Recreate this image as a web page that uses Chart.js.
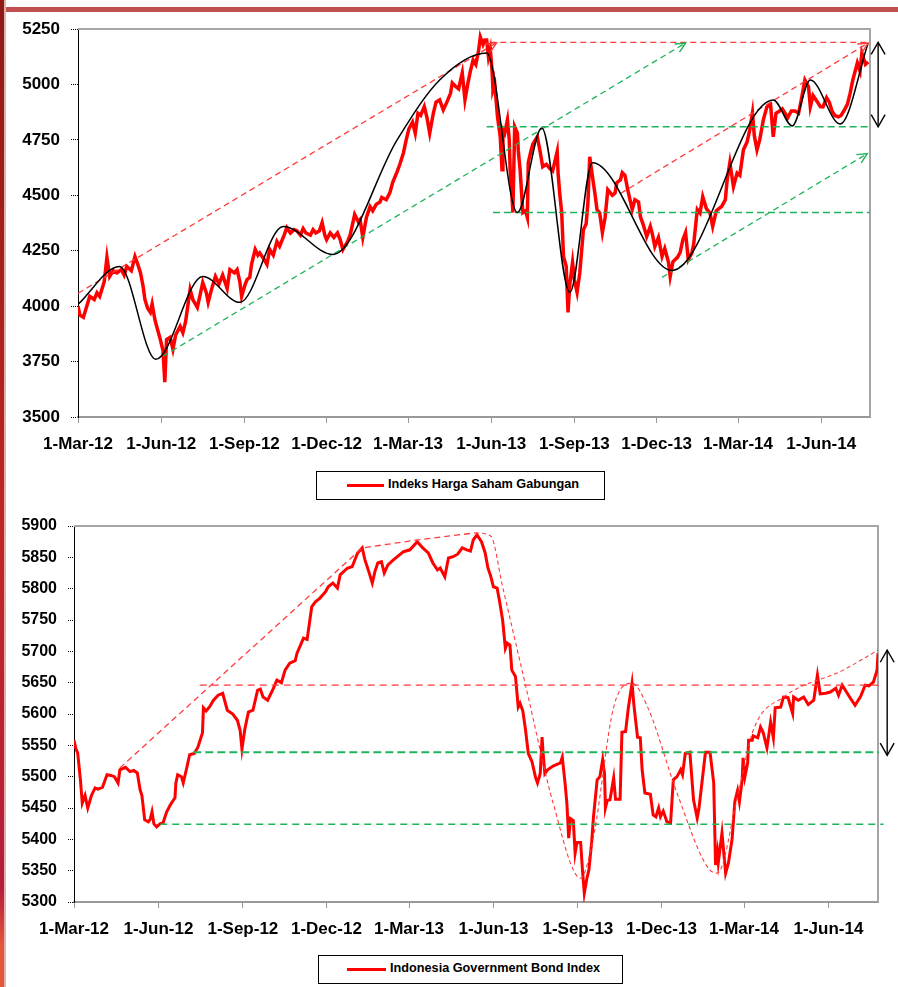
<!DOCTYPE html>
<html>
<head>
<meta charset="utf-8">
<script src="https://cdn.jsdelivr.net/npm/chart.js@4.4.0/dist/chart.umd.min.js"></script>
<style>
  body { margin: 0; background: #fff; width: 898px; height: 987px; position: relative; overflow: hidden; font-family: "Liberation Sans", Arial, sans-serif; }
  .strip { position: absolute; left: 0; top: 0; width: 4px; height: 987px; background: linear-gradient(#8e1b16 0%, #a3201a 25%, #c02626 55%, #b51d3c 90%, #e4583a 96%); }
  .strip2 { position: absolute; left: 4px; top: 0; width: 2px; height: 987px; background: #e3b0ae; }
  .band { position: absolute; left: 6px; top: 7px; right: 0; height: 5px; background: #c0504d; }
  canvas { position: absolute; left: 0; }
  .legend { position: absolute; border: 1.5px solid #000; box-sizing: border-box; font-weight: bold; font-size: 12.7px; }
  .legend .ln { position: absolute; height: 3px; background: #ff0000; }
  .legend .tx { position: absolute; white-space: nowrap; }
</style>
</head>
<body>
<div class="strip"></div>
<div class="strip2"></div>
<div class="band"></div>

<canvas id="chartIhsg" width="898" height="465" style="top:0"></canvas>
<div class="legend" id="legIhsg" style="left:316px;top:471px;width:289px;height:29px">
  <div class="ln" style="left:30px;top:12px;width:37px"></div>
  <div class="tx" style="left:71px;top:5px"></div>
</div>

<canvas id="chartBond" width="898" height="445" style="top:505px"></canvas>
<div class="legend" id="legBond" style="left:318px;top:955px;width:305px;height:29px">
  <div class="ln" style="left:28px;top:12px;width:39px"></div>
  <div class="tx" style="left:71px;top:5px"></div>
</div>

<script>
// x axis: days since 1-Mar-12
const tickDays = [0, 92, 184, 275, 365, 457, 549, 640, 730, 822];
const tickLabels = ['1-Mar-12', '1-Jun-12', '1-Sep-12', '1-Dec-12', '1-Mar-13', '1-Jun-13', '1-Sep-13', '1-Dec-13', '1-Mar-14', '1-Jun-14'];
const lastDay = 876;

// ---- Indeks Harga Saham Gabungan ----
const ihsgName = 'Indeks Harga Saham Gabungan';
const ihsgDays = [0,2,6,9,13,18,21,24,29,32,35,39,43,48,51,54,59,63,66,69,72,74,77,80,82,85,87,91,94,96,98,102,105,108,113,116,119,124,127,132,135,138,142,144,148,152,156,160,165,168,173,176,179,181,185,187,190,192,196,199,201,206,209,212,216,220,223,228,231,235,239,242,246,249,252,257,260,263,267,270,273,275,279,283,287,290,293,298,301,306,310,312,315,319,323,326,330,334,336,341,345,348,353,356,360,363,366,370,373,376,379,383,386,389,393,396,400,404,408,412,414,418,421,425,428,431,434,437,440,443,445,448,450,452,454,456,458,459,461,464,467,469,470,472,475,477,478,480,481,483,486,487,489,492,495,497,498,501,503,508,511,514,518,522,525,530,531,533,535,537,540,542,544,547,549,552,555,559,562,564,566,570,572,574,577,580,583,586,591,594,596,600,602,605,608,613,616,620,622,625,629,633,635,638,642,646,649,653,655,658,663,666,669,672,675,679,681,685,688,691,695,699,702,706,709,712,716,718,721,725,729,732,736,740,743,746,748,751,754,758,762,766,769,772,776,779,782,785,789,793,797,800,804,808,810,813,818,821,824,828,831,834,837,841,844,847,851,854,857,862,865,867,871,874];
const ihsgValues = [4000,3960,3950,3990,4044,4030,4060,4044,4110,4220,4134,4160,4150,4165,4140,4179,4160,4224,4190,4152,4090,4030,3990,3972,4010,3940,3909,3850,3800,3657,3850,3860,3805,3870,3909,3880,3930,4075,4030,3994,4050,4107,4060,4017,4080,4134,4100,4140,4080,4165,4150,4165,4110,4044,4100,4120,4130,4190,4256,4230,4240,4210,4188,4256,4230,4291,4270,4320,4354,4330,4345,4340,4320,4350,4330,4320,4345,4330,4340,4377,4320,4300,4330,4310,4330,4300,4255,4290,4320,4413,4380,4390,4310,4400,4449,4430,4460,4470,4490,4480,4512,4557,4607,4640,4692,4750,4800,4830,4780,4870,4860,4900,4850,4780,4870,4920,4930,4885,4920,4960,5007,4990,4980,5052,4930,5000,5060,5110,5090,5150,5214,5180,5200,5200,5124,5160,5060,4975,5000,4854,4764,4615,4795,4780,4840,4750,4615,4500,4422,4809,4780,4700,4615,4422,4430,4400,4647,4700,4730,4764,4700,4629,4640,4620,4610,4697,4600,4500,4422,4224,4180,3972,4100,4197,4120,4062,4150,4345,4370,4467,4674,4557,4500,4436,4420,4332,4400,4525,4500,4510,4557,4570,4602,4590,4525,4436,4480,4470,4404,4370,4314,4360,4330,4269,4310,4224,4260,4200,4134,4200,4220,4242,4300,4332,4210,4240,4280,4436,4420,4494,4440,4420,4359,4430,4440,4450,4480,4570,4647,4539,4600,4590,4705,4740,4795,4872,4770,4705,4750,4840,4899,4910,4764,4870,4880,4890,4870,4850,4880,4880,4870,4930,5020,4990,4899,4950,4920,4900,4899,4940,4920,4880,4860,4854,4860,4880,4910,4960,5020,5097,5060,5142,5090,5101];
// smooth wave drawn by the analyst
const ihsgWaveDays = [0,46,86,138,179,227,282,353,400,452,486,513,544,569,657,769,790,810,843,874];
const ihsgWaveValues = [4008,4179,3760,4134,4017,4359,4233,4750,5020,5142,4422,4804,4062,4647,4161,4930,4813,5020,4822,5187];
// trend lines
const ihsgUpper1Days = [0, 463], ihsgUpper1Values = [4058, 5188];
const ihsgUpper2Days = [600, 874], ihsgUpper2Values = [4508, 5187];
const ihsgLower1Days = [94, 672], ihsgLower1Values = [3774, 5187];
const ihsgLower2Days = [646, 873], ihsgLower2Values = [4130, 4688];
const ihsgTopDays = [456, 876], ihsgTopValues = [5190, 5190];
const ihsgLevel1Days = [452, 876], ihsgLevel1Values = [4809, 4809];
const ihsgLevel2Days = [459, 876], ihsgLevel2Values = [4422, 4422];
const ihsgRangeDay = 885, ihsgRangeValues = [5190, 4809];

// ---- Indonesia Government Bond Index ----
const bondName = 'Indonesia Government Bond Index';
const bondDays = [0,2,4,7,9,12,15,19,23,26,31,34,36,40,44,48,50,56,61,65,69,72,74,77,81,83,85,87,90,94,97,101,105,108,110,111,113,117,119,123,126,131,135,140,141,144,148,152,157,162,167,173,178,181,183,186,190,195,200,203,206,211,217,221,226,230,235,241,243,246,250,254,257,259,263,268,274,277,282,287,290,298,303,309,314,317,321,325,328,331,335,338,342,348,353,359,366,374,380,386,391,396,399,404,408,413,418,423,428,432,435,439,444,448,451,454,457,461,464,467,470,472,475,477,481,484,486,489,492,495,499,503,505,508,510,511,513,516,522,530,532,535,537,539,541,544,546,548,552,554,556,559,561,564,566,570,573,576,578,579,581,584,588,590,595,597,601,604,608,610,614,617,619,622,628,631,634,637,639,642,646,650,653,657,661,663,666,671,675,679,681,688,693,697,699,701,702,706,710,713,717,720,723,725,728,729,731,734,735,739,740,745,748,751,755,759,762,764,770,773,778,783,784,789,795,800,806,810,813,819,824,830,833,837,843,846,851,857,862,866,871,875,876];
const bondValues = [5558,5545,5538,5495,5458,5470,5450,5470,5482,5480,5483,5495,5503,5502,5500,5490,5511,5515,5508,5510,5506,5479,5470,5431,5428,5432,5444,5425,5420,5425,5426,5444,5455,5462,5466,5490,5503,5500,5490,5515,5535,5537,5547,5570,5610,5605,5612,5622,5630,5633,5606,5600,5590,5574,5544,5575,5603,5606,5638,5640,5627,5622,5640,5654,5650,5670,5681,5685,5697,5707,5721,5719,5750,5771,5779,5785,5795,5803,5809,5801,5822,5833,5835,5857,5865,5846,5828,5809,5828,5841,5843,5825,5838,5846,5852,5859,5862,5875,5865,5857,5841,5830,5833,5819,5849,5851,5855,5865,5862,5860,5878,5886,5875,5857,5833,5820,5803,5801,5777,5750,5705,5713,5710,5670,5660,5611,5617,5605,5574,5537,5524,5498,5490,5505,5563,5540,5505,5511,5517,5522,5531,5490,5458,5402,5433,5430,5378,5395,5395,5351,5314,5339,5351,5395,5436,5495,5500,5527,5505,5450,5462,5463,5498,5464,5464,5571,5572,5610,5649,5615,5563,5562,5511,5474,5472,5439,5436,5450,5436,5445,5428,5426,5495,5500,5511,5503,5537,5539,5463,5434,5450,5539,5539,5490,5359,5380,5363,5410,5346,5362,5400,5460,5478,5460,5495,5530,5500,5522,5558,5558,5565,5562,5579,5570,5546,5587,5562,5610,5611,5627,5626,5601,5627,5622,5627,5615,5622,5662,5632,5633,5635,5641,5630,5646,5632,5625,5614,5628,5646,5645,5651,5670,5697];
// envelope lines
const bondEnvDays = [50, 314, 375, 437], bondEnvValues = [5514, 5865, 5878, 5889];
const bondCurveDays = [437,454,467,494,522,552,566,588,608,625,657,690,701,723,740,773,838,876];
const bondCurveValues = [5889,5884,5803,5633,5458,5338,5404,5611,5649,5611,5474,5356,5346,5469,5574,5627,5670,5702];
const bondResistDays = [137, 882], bondResistValues = [5646, 5646];
const bondLevel1Days = [130, 877], bondLevel1Values = [5539, 5539];
const bondLevel2Days = [94, 882], bondLevel2Values = [5424, 5424];
const bondRangeDay = 886, bondRangeValues = [5702, 5534];

const FONT = "'Liberation Sans', Arial, sans-serif";
const RED = '#ff0000';
const DASH_RED = '#ff3b3b';
const GREEN = '#1fb35a';

const pts = (xs, ys) => xs.map((x, i) => ({ x: x, y: ys[i] }));

function dashed(xs, ys, color, width, dash, extra) {
  return Object.assign({
    data: pts(xs, ys), borderColor: color, borderWidth: width, borderDash: dash,
    pointRadius: 0, tension: 0, clip: false, order: 1
  }, extra || {});
}

const arrowPlugin = {
  id: 'arrows',
  beforeDatasetsDraw(chart) {
    const a = chart.chartArea, ctx = chart.ctx;
    ctx.save();
    ctx.strokeStyle = '#a6a6a6';
    ctx.lineWidth = 2;
    ctx.beginPath();
    ctx.moveTo(a.left, a.top);
    ctx.lineTo(a.right, a.top);
    ctx.lineTo(a.right, a.bottom);
    ctx.stroke();
    ctx.restore();
  },
  afterDatasetsDraw(chart, args, opts) {
    const ctx = chart.ctx;
    const head = (x, y, ang, color, len, spread) => {
      ctx.save();
      ctx.strokeStyle = color;
      ctx.lineWidth = 1.4;
      ctx.setLineDash([]);
      ctx.beginPath();
      ctx.moveTo(x - len * Math.cos(ang - spread), y - len * Math.sin(ang - spread));
      ctx.lineTo(x, y);
      ctx.lineTo(x - len * Math.cos(ang + spread), y - len * Math.sin(ang + spread));
      ctx.stroke();
      ctx.restore();
    };
    chart.data.datasets.forEach((ds, i) => {
      if (!ds.arrowEnd) return;
      const p = chart.getDatasetMeta(i).data;
      const a = p[p.length - 2], b = p[p.length - 1];
      head(b.x, b.y, Math.atan2(b.y - a.y, b.x - a.x), ds.borderColor, 11, 0.45);
    });
    if (opts.range) {
      const x = chart.scales.x.getPixelForValue(opts.range.day);
      const y1 = chart.scales.y.getPixelForValue(opts.range.values[0]);
      const y2 = chart.scales.y.getPixelForValue(opts.range.values[1]);
      ctx.save();
      ctx.strokeStyle = '#000';
      ctx.lineWidth = 1.4;
      ctx.beginPath();
      ctx.moveTo(x, y1);
      ctx.lineTo(x, y2);
      ctx.stroke();
      ctx.restore();
      head(x, y1, -Math.PI / 2, '#000', 14, 0.52);
      head(x, y2, Math.PI / 2, '#000', 14, 0.52);
    }
  }
};

function scales(yMin, yMax, yStep, ySize, yTick, yWidth) {
  return {
    x: {
      type: 'linear', min: 0, max: lastDay,
      afterBuildTicks: s => { s.ticks = tickDays.map(v => ({ value: v })); },
      afterFit: s => { s.height = 48; },
      ticks: {
        autoSkip: false, maxRotation: 0, minRotation: 0, padding: 11, color: '#000',
        font: { family: FONT, size: 17, weight: 'bold' },
        callback: (v, i) => tickLabels[i]
      },
      grid: { drawOnChartArea: false, drawTicks: true, tickLength: 6, color: '#999' },
      border: { color: '#999', width: 2 }
    },
    y: {
      type: 'linear', min: yMin, max: yMax,
      afterFit: s => { s.width = yWidth; },
      ticks: {
        stepSize: yStep, padding: 11, color: '#000',
        font: { family: FONT, size: ySize, weight: 'bold' },
        callback: v => String(v)
      },
      grid: { drawOnChartArea: false, drawTicks: true, tickLength: yTick, color: '#000', tickBorderDash: [1, 1] },
      border: { color: '#000', width: 1, dash: [1, 1] }
    }
  };
}

function baseOptions(pad, sc, range) {
  return {
    responsive: false, animation: false, devicePixelRatio: 1,
    layout: { padding: pad },
    plugins: { legend: { display: false }, tooltip: { enabled: false }, arrows: { range: range } },
    scales: sc
  };
}

new Chart('chartIhsg', {
  type: 'line',
  data: {
    datasets: [
      dashed(ihsgUpper1Days, ihsgUpper1Values, DASH_RED, 1.3, [6, 4], { arrowEnd: true }),
      dashed(ihsgUpper2Days, ihsgUpper2Values, DASH_RED, 1.3, [6, 4], { arrowEnd: true }),
      dashed(ihsgTopDays, ihsgTopValues, DASH_RED, 1.3, [6, 4]),
      dashed(ihsgLower1Days, ihsgLower1Values, GREEN, 1.3, [6, 4], { arrowEnd: true }),
      dashed(ihsgLower2Days, ihsgLower2Values, GREEN, 1.3, [6, 4], { arrowEnd: true }),
      dashed(ihsgLevel1Days, ihsgLevel1Values, GREEN, 1.5, [7, 4]),
      dashed(ihsgLevel2Days, ihsgLevel2Values, GREEN, 1.5, [7, 4]),
      {
        data: pts(ihsgWaveDays, ihsgWaveValues), borderColor: '#000', borderWidth: 1.5,
        pointRadius: 0, cubicInterpolationMode: 'monotone', order: 0
      },
      {
        label: ihsgName, data: pts(ihsgDays, ihsgValues), borderColor: RED, borderWidth: 3.5,
        pointRadius: 0, tension: 0, order: 10
      }
    ]
  },
  options: baseOptions({ top: 29, right: 28, left: 0, bottom: 0 },
    scales(3500, 5250, 250, 17, 7, 78),
    { day: ihsgRangeDay, values: ihsgRangeValues }),
  plugins: [arrowPlugin]
});

new Chart('chartBond', {
  type: 'line',
  data: {
    datasets: [
      dashed(bondEnvDays, bondEnvValues, DASH_RED, 1.3, [6, 4]),
      {
        data: pts(bondCurveDays, bondCurveValues), borderColor: DASH_RED, borderWidth: 1.1, borderDash: [4, 3],
        pointRadius: 0, cubicInterpolationMode: 'monotone', clip: false, order: 1
      },
      dashed(bondResistDays, bondResistValues, DASH_RED, 1.3, [7, 5]),
      dashed(bondLevel1Days, bondLevel1Values, GREEN, 2.2, [8, 4]),
      dashed(bondLevel2Days, bondLevel2Values, GREEN, 1.4, [7, 5]),
      {
        label: bondName, data: pts(bondDays, bondValues), borderColor: RED, borderWidth: 3,
        pointRadius: 0, tension: 0, order: 10
      }
    ]
  },
  options: baseOptions({ top: 21, right: 20, left: 0, bottom: 0 },
    scales(5300, 5900, 50, 16, 6, 74),
    { day: bondRangeDay, values: bondRangeValues }),
  plugins: [arrowPlugin]
});

document.querySelector('#legIhsg .tx').textContent = ihsgName;
document.querySelector('#legBond .tx').textContent = bondName;
</script>
</body>
</html>
